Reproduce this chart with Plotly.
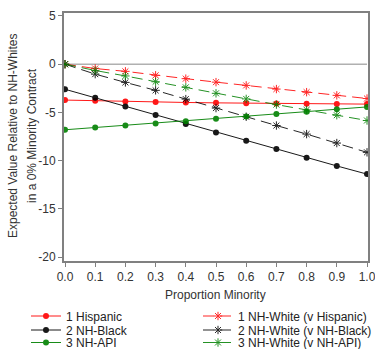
import plotly.graph_objects as go

prop = [0.0, 0.1, 0.2, 0.3, 0.4, 0.5, 0.6, 0.7, 0.8, 0.9, 1.0]
hispanic = [-3.72, -3.80, -3.86, -3.92, -3.97, -4.01, -4.04, -4.07, -4.10, -4.12, -4.14]
nh_black = [-2.60, -3.48, -4.38, -5.28, -6.19, -7.08, -7.94, -8.80, -9.69, -10.55, -11.40]
nh_api = [-6.80, -6.57, -6.37, -6.14, -5.91, -5.65, -5.42, -5.17, -4.92, -4.67, -4.43]
white_v_hisp = [0.0, -0.45, -0.74, -1.15, -1.50, -1.86, -2.20, -2.58, -2.90, -3.23, -3.56]
white_v_black = [0.0, -1.03, -1.89, -2.71, -3.62, -4.55, -5.45, -6.36, -7.25, -8.18, -9.14]
white_v_api = [0.0, -0.65, -1.22, -1.82, -2.40, -3.02, -3.60, -4.19, -4.74, -5.29, -5.84]

names = ["1 Hispanic", "1 NH-White (v Hispanic)", "2 NH-Black", "2 NH-White (v NH-Black)",
         "3 NH-API", "3 NH-White (v NH-API)"]
series = [hispanic, white_v_hisp, nh_black, white_v_black, nh_api, white_v_api]
colors = ["#ff0000", "#ff0000", "#000000", "#000000", "#008000", "#008000"]
dashed = [False, True, False, True, False, True]
legend_ids = ["legend", "legend2", "legend3", "legend4", "legend5", "legend6"]

W, H = 375, 349
FONT = "Liberation Sans, Arial, sans-serif"

fig = go.Figure()
# zero reference line
fig.add_trace(go.Scatter(x=[prop[0], prop[-1]], y=[0, 0], mode="lines",
                         line=dict(color="#b0b0b0", width=1.5), showlegend=False, hoverinfo="skip"))
for name, ys, c, d, lg in zip(names, series, colors, dashed, legend_ids):
    if d:
        fig.add_trace(go.Scatter(x=prop, y=ys, name=name, mode="lines+markers", legend=lg,
                                 line=dict(color=c, width=1, dash="11px,6px"),
                                 marker=dict(symbol="asterisk-open", size=7, color=c,
                                             line=dict(color=c, width=1)),
                                 opacity=0.85))
    else:
        fig.add_trace(go.Scatter(x=prop, y=ys, name=name, mode="lines+markers", legend=lg,
                                 line=dict(color=c, width=1),
                                 marker=dict(symbol="circle", size=6, color=c),
                                 opacity=0.9))

def px_x(p):
    return p / W

def px_y(p):
    return 1 - p / H

leg_common = dict(orientation="v", xanchor="left", yanchor="middle", itemwidth=30,
                  bgcolor="rgba(0,0,0,0)", font=dict(family=FONT, size=12, color="#222222"))
col_x = [26, 198]
row_y = [316, 330, 342.5]
legend_layout = {}
for i, lg in enumerate(legend_ids):
    legend_layout[lg] = dict(x=px_x(col_x[i % 2]), y=px_y(row_y[i // 2]), **leg_common)

fig.update_layout(
    width=W, height=H,
    margin=dict(l=0, r=0, t=0, b=0, autoexpand=False),
    paper_bgcolor="white", plot_bgcolor="white",
    font=dict(family=FONT, size=12, color="#333333"),
    showlegend=True,
    annotations=[
        dict(text="Proportion Minority", xref="paper", yref="paper",
             x=px_x(216), y=px_y(295), xanchor="center", yanchor="middle",
             showarrow=False, font=dict(size=12)),
        dict(text="Expected Value Relative to NH-Whites", xref="paper", yref="paper",
             x=px_x(13), y=px_y(136), xanchor="center", yanchor="middle", textangle=-90,
             showarrow=False, font=dict(size=12)),
        dict(text="in a 0% Minority Contract", xref="paper", yref="paper",
             x=px_x(32), y=px_y(136), xanchor="center", yanchor="middle", textangle=-90,
             showarrow=False, font=dict(size=12)),
    ],
    **legend_layout,
)
fig.update_xaxes(domain=[64 / W, 368 / W], range=[-0.0033, 1.0033], tickvals=prop,
                 ticktext=[f"{v:.1f}" for v in prop], automargin=False,
                 ticklabeloverflow="allow",
                 showgrid=False, zeroline=False, showline=True, linecolor="#808080", linewidth=2,
                 mirror=True, ticks="outside", ticklen=4, tickcolor="#808080")
fig.update_yaxes(domain=[1 - 261 / H, 1 - 13 / H], range=[-20.41, 5.31],
                 tickvals=[5, 0, -5, -10, -15, -20], automargin=False,
                 ticklabeloverflow="allow",
                 ticktext=["5", "0", "-5", "-10", "-15", "-20"],
                 showgrid=False, zeroline=False, showline=True, linecolor="#808080", linewidth=2,
                 mirror=True, ticks="outside", ticklen=4, tickcolor="#808080")

fig.write_html("out.html")
